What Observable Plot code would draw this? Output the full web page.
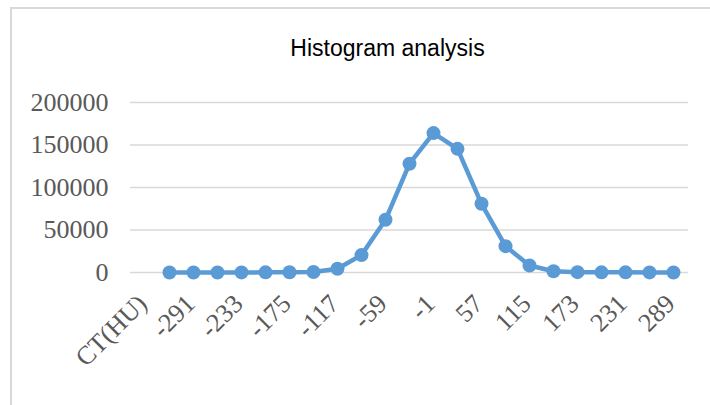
<!DOCTYPE html>
<html><head><meta charset="utf-8">
<script src="https://cdn.jsdelivr.net/npm/d3@7"></script>
<script src="https://cdn.jsdelivr.net/npm/@observablehq/plot@0.6"></script>
<style>
html,body{margin:0;padding:0;background:#fff;}
#wrap{position:relative;width:710px;height:405px;overflow:hidden;}
#frame{position:absolute;left:10px;top:7px;width:720px;height:420px;border-left:2px solid #d9d9d9;border-top:2px solid #d9d9d9;box-sizing:border-box;}
#title{position:absolute;top:35px;left:0;width:775px;text-align:center;font-family:"Liberation Sans",Arial,sans-serif;font-size:23px;color:#000;white-space:nowrap;}
#chart{position:absolute;left:0;top:0;}
</style></head><body>
<div id="wrap"><div id="frame"></div><div id="title">Histogram analysis</div><div id="chart"></div></div>
<script>
const categories = ["CT(HU)","-320","-291","-262","-233","-204","-175","-146","-117","-88","-59","-30","-1","28","57","86","115","144","173","202","231","260","289"];
const counts = [null,50,60,80,100,150,250,600,4400,20500,62000,128000,164000,145500,80800,31000,8200,1500,400,200,150,100,80];
const xTickLabels = ["CT(HU)","-291","-233","-175","-117","-59","-1","57","115","173","231","289"];
const yTicks = [0,50000,100000,150000,200000];

const data = categories.map((c,i)=>({cat:c, count:counts[i]}));
const pts = data.filter(d=>d.count!=null);

const chart = Plot.plot({
  width:710, height:405,
  marginLeft:130, marginRight:22, marginTop:102, marginBottom:133,
  style:{fontFamily:'"Liberation Serif","Times New Roman",serif', fontSize:"26px", color:"#595959", background:"transparent", overflow:"visible"},
  x:{type:"point", domain:categories, padding:0.5, label:null},
  y:{domain:[0,200000], label:null},
  marks:[
    Plot.ruleY(yTicks,{stroke:"#d9d9d9", strokeWidth:1.5}),
    Plot.axisY(yTicks,{tickSize:0, tickPadding:22, tickFormat:d=>String(d), fontSize:26, label:null}),
    Plot.axisX(xTickLabels,{tickSize:0, tickRotate:-45, tickPadding:27, dx:-3, fontSize:26, label:null}),
    Plot.line(pts,{x:"cat", y:"count", stroke:"#5b9bd5", strokeWidth:4.5, strokeLinejoin:"round"}),
    Plot.dot(pts,{x:"cat", y:"count", r:7, fill:"#5b9bd5", stroke:"none"})
  ]
});
document.getElementById("chart").appendChild(chart);
</script>
</body></html>
